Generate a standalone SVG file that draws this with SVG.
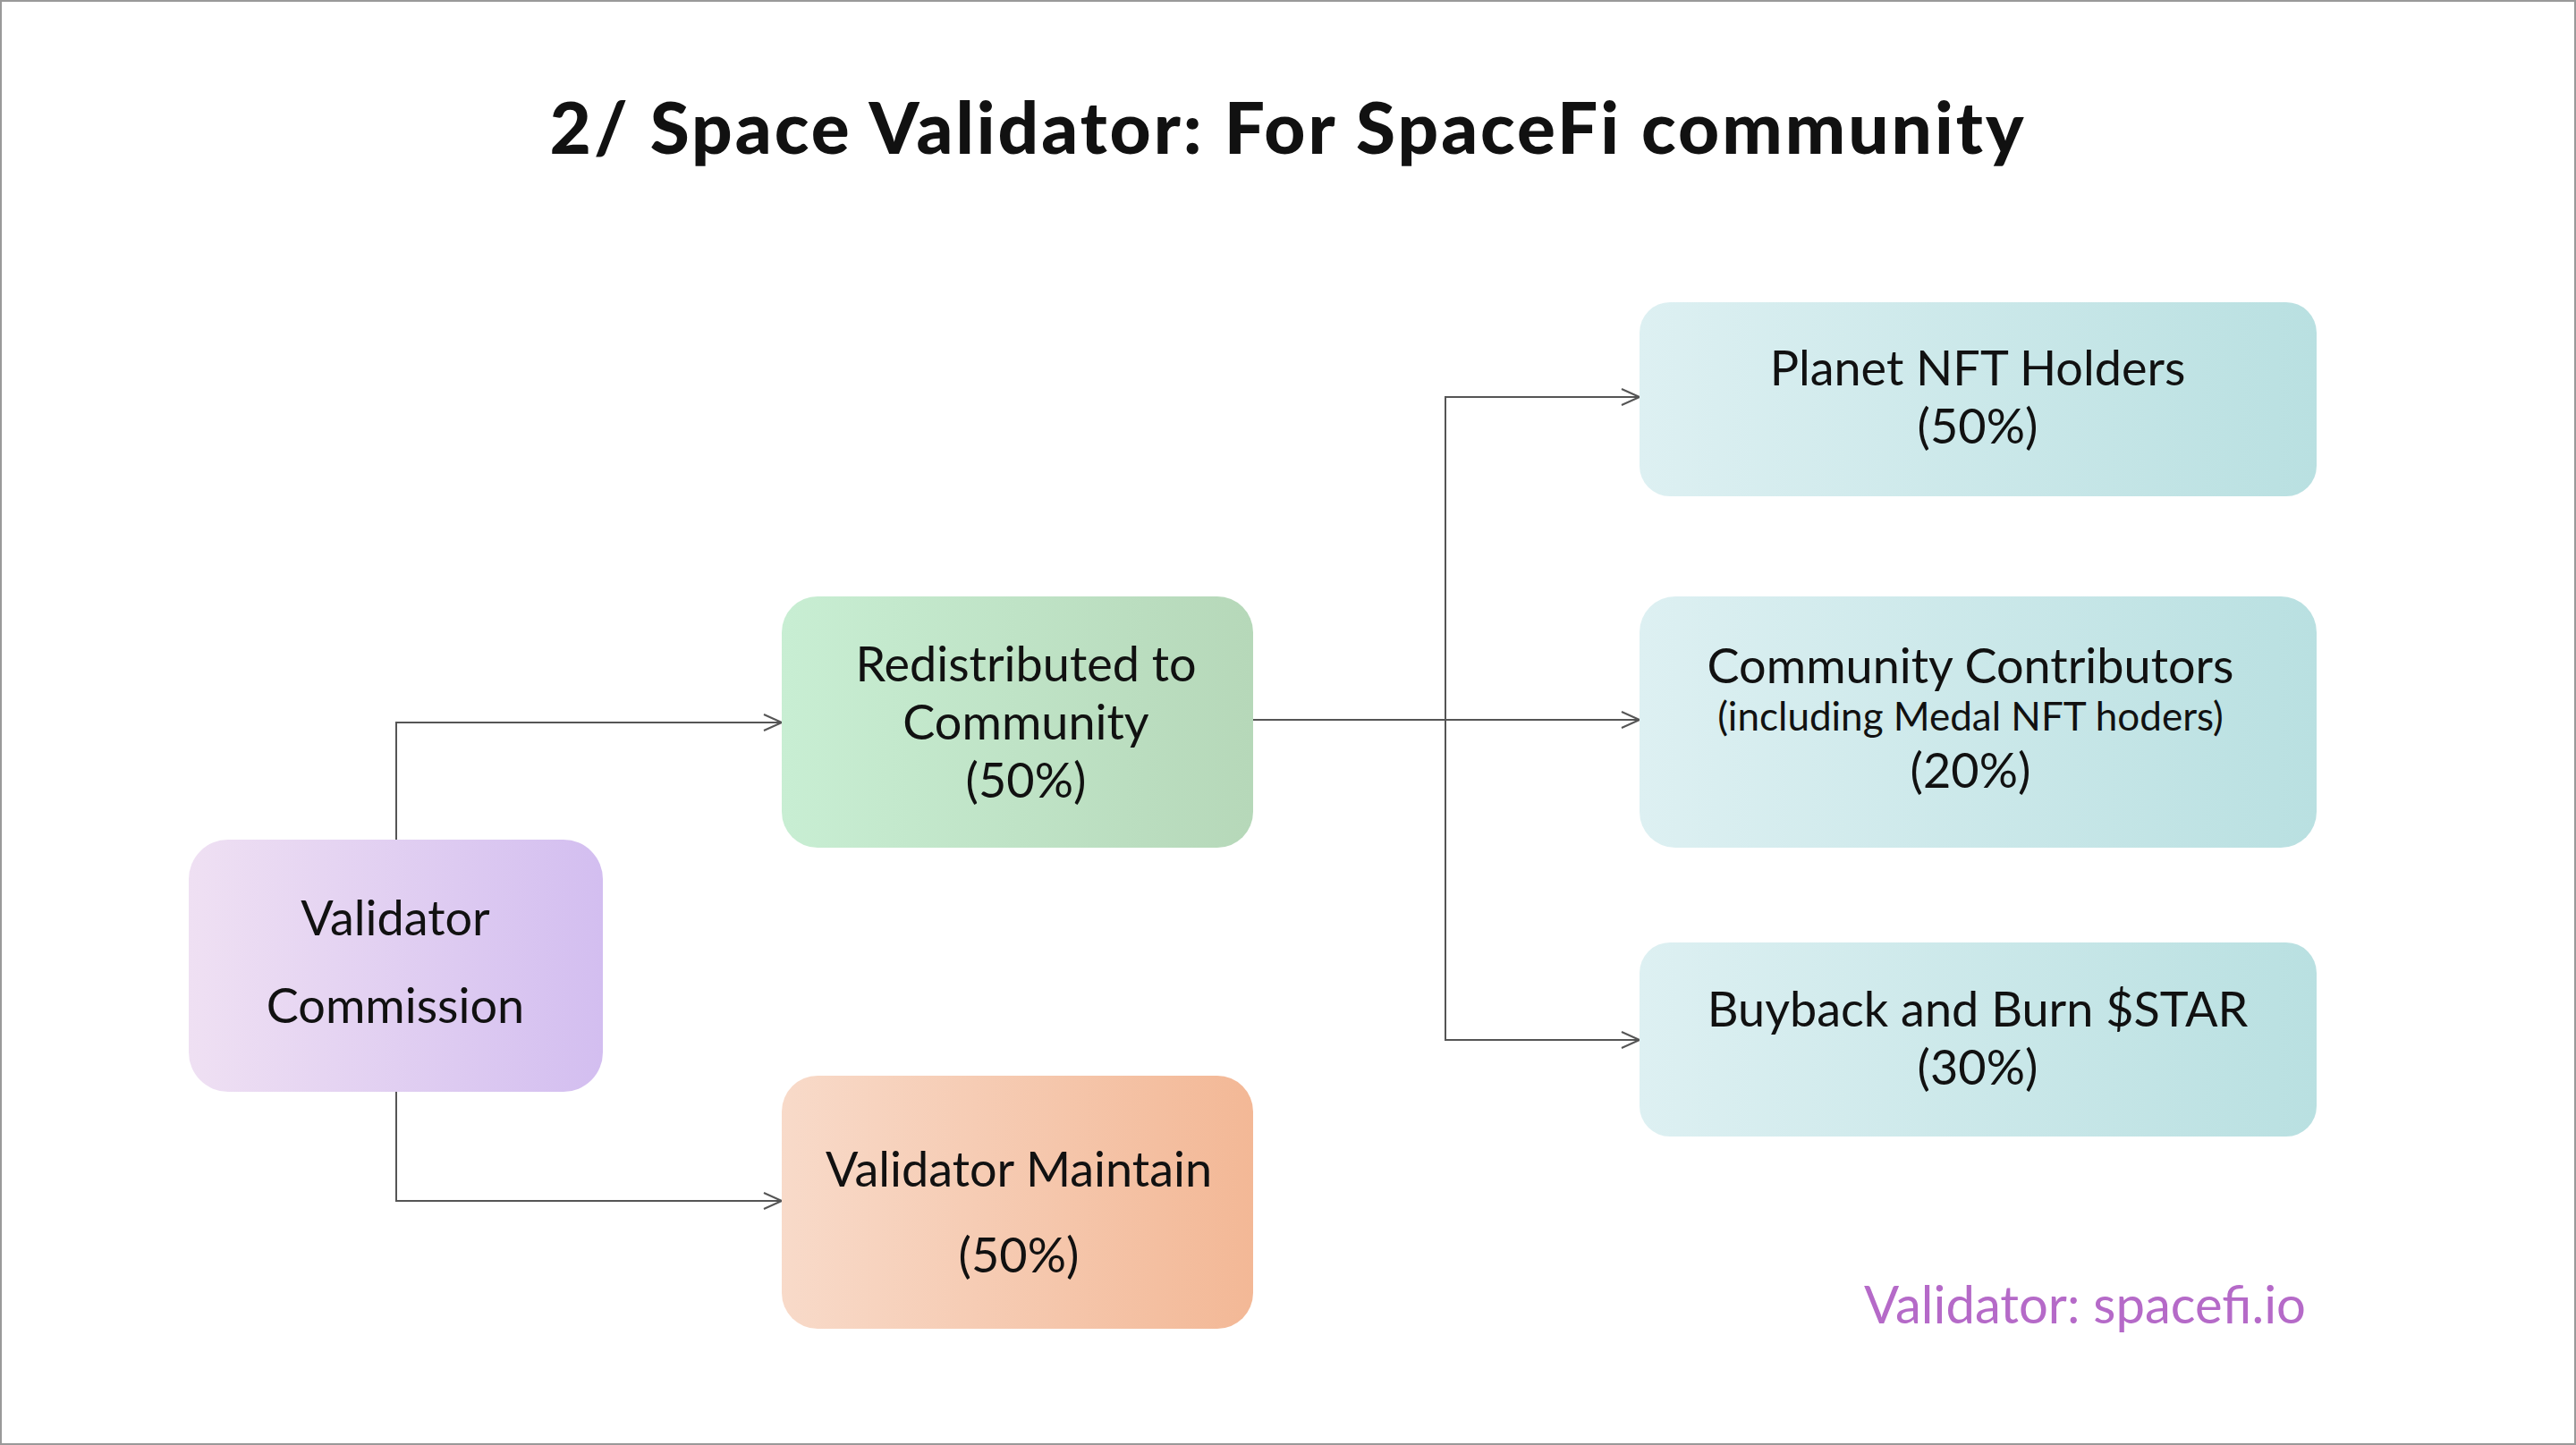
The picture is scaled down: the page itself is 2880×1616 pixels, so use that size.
<svg xmlns="http://www.w3.org/2000/svg" width="2880" height="1616" viewBox="0 0 2880 1616">
<defs>
<linearGradient id="gP" x1="0" x2="1"><stop offset="0" stop-color="#efe0f3"/><stop offset="1" stop-color="#d3bef0"/></linearGradient>
<linearGradient id="gG" x1="0" x2="1"><stop offset="0" stop-color="#c8eed3"/><stop offset="1" stop-color="#b6d8b9"/></linearGradient>
<linearGradient id="gO" x1="0" x2="1"><stop offset="0" stop-color="#f8dac9"/><stop offset="1" stop-color="#f3b896"/></linearGradient>
<linearGradient id="gT" x1="0" x2="1"><stop offset="0" stop-color="#ddf0f2"/><stop offset="1" stop-color="#b9e0e1"/></linearGradient>
<marker id="ar" markerWidth="24" markerHeight="24" refX="22" refY="12" orient="auto" markerUnits="userSpaceOnUse"><path d="M2,3 L22,12 L2,21" fill="none" stroke="#555" stroke-width="2"/></marker>
</defs>
<style>
text{font-family:Lato,"Liberation Sans",sans-serif;fill:#111;text-anchor:middle}
.t{font-size:54px}
.s{font-size:44px}
.c{fill:none;stroke:#555;stroke-width:2}
</style>
<rect x="0" y="0" width="2880" height="1616" fill="#fff"/>
<rect x="1" y="1" width="2878" height="1614" fill="none" stroke="#999" stroke-width="2"/>
<text x="1440" y="172" style="font-size:80px;font-weight:900;letter-spacing:3px">2/ Space Validator: For SpaceFi community</text>
<g id="connectors">
<path class="c" d="M443,939 V808 H874" marker-end="url(#ar)"/>
<path class="c" d="M443,1221 V1343 H874" marker-end="url(#ar)"/>
<path class="c" d="M1401,805 H1833" marker-end="url(#ar)"/>
<path class="c" d="M1616,805 V444 H1833" marker-end="url(#ar)"/>
<path class="c" d="M1616,805 V1163 H1833" marker-end="url(#ar)"/>
</g>
<g id="commission"><rect x="211" y="939" width="463" height="282" rx="44" fill="url(#gP)"/>
<text class="t" x="442" y="1046">Validator</text><text class="t" x="442" y="1144">Commission</text></g>
<g id="redistributed"><rect x="874" y="667" width="527" height="281" rx="40" fill="url(#gG)"/>
<text class="t" x="1147" y="762">Redistributed to</text><text class="t" x="1147" y="827">Community</text><text class="t" x="1147" y="892">(50%)</text></g>
<g id="maintain"><rect x="874" y="1203" width="527" height="283" rx="40" fill="url(#gO)"/>
<text class="t" x="1139" y="1327">Validator Maintain</text><text class="t" x="1139" y="1423">(50%)</text></g>
<g id="planet"><rect x="1833" y="338" width="757" height="217" rx="34" fill="url(#gT)"/>
<text class="t" x="2211" y="431">Planet NFT Holders</text><text class="t" x="2211" y="496">(50%)</text></g>
<g id="contributors"><rect x="1833" y="667" width="757" height="281" rx="40" fill="url(#gT)"/>
<text class="t" x="2203" y="764">Community Contributors</text><text class="s" x="2203" y="817">(including Medal NFT hoders)</text><text class="t" x="2203" y="881">(20%)</text></g>
<g id="buyback"><rect x="1833" y="1054" width="757" height="217" rx="34" fill="url(#gT)"/>
<text class="t" x="2211" y="1148">Buyback and Burn $STAR</text><text class="t" x="2211" y="1213">(30%)</text></g>
<text x="2578" y="1480" style="font-size:58px;fill:#b56ac8;text-anchor:end">Validator: spacefi.io</text>
</svg>
